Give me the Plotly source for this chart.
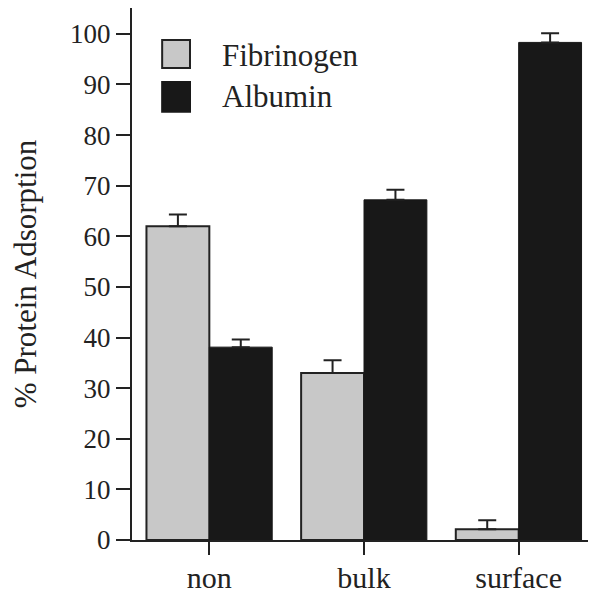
import plotly.graph_objects as go

categories = ["non", "bulk", "surface"]
fibrinogen = [62.0, 33.0, 2.1]
fibrinogen_err = [2.3, 2.5, 1.8]
albumin = [38.1, 67.2, 98.3]
albumin_err = [1.5, 2.0, 1.8]
y_ticks = [0, 10, 20, 30, 40, 50, 60, 70, 80, 90, 100]

FONT = "Liberation Serif"
INK = "#222222"
FIB_COLOR = "#c8c8c8"
ALB_COLOR = "#181818"

fig = go.Figure()
fig.add_trace(go.Bar(
    name="Fibrinogen", x=categories, y=fibrinogen,
    marker=dict(color=FIB_COLOR, line=dict(color=INK, width=2)),
    error_y=dict(type="data", array=fibrinogen_err, arrayminus=[0] * 3,
                 symmetric=False, color=INK, thickness=2, width=9),
    showlegend=False,
))
fig.add_trace(go.Bar(
    name="Albumin", x=categories, y=albumin,
    marker=dict(color=ALB_COLOR, line=dict(color=ALB_COLOR, width=1)),
    error_y=dict(type="data", array=albumin_err, arrayminus=[0] * 3,
                 symmetric=False, color=INK, thickness=2, width=9),
    showlegend=False,
))

# custom legend with large swatches
legend_items = [("Fibrinogen", FIB_COLOR, INK, 0.940, 0.887, 0.911),
                ("Albumin", ALB_COLOR, ALB_COLOR, 0.861, 0.805, 0.833)]
for label, fill, edge, y1, y0, ty in legend_items:
    fig.add_shape(type="rect", xref="paper", yref="paper",
                  x0=0.065, x1=0.125, y0=y0, y1=y1,
                  fillcolor=fill, line=dict(color=edge, width=2))
    fig.add_annotation(x=0.190, y=ty, xref="paper", yref="paper",
                       text=label, showarrow=False, xanchor="left", yanchor="middle",
                       font=dict(family=FONT, size=31, color=INK))

fig.update_layout(
    width=588, height=585,
    margin=dict(l=124, r=0, t=0, b=53),
    paper_bgcolor="white", plot_bgcolor="white",
    barmode="group", bargap=0.187, bargroupgap=0,
    font=dict(family=FONT, color=INK),
)
fig.update_xaxes(
    automargin=False,
    showline=True, linecolor=INK, linewidth=2, mirror=True,
    ticks="outside", ticklen=13, tickwidth=2, tickcolor=INK,
    tickfont=dict(family=FONT, size=30, color=INK),
    ticklabelstandoff=-3,
    range=[-0.5, 2.5], showgrid=False,
)
fig.update_yaxes(
    automargin=False,
    range=[0, 105.1], tickvals=y_ticks,
    showline=True, linecolor=INK, linewidth=2, mirror=False,
    ticks="outside", ticklen=14, tickwidth=2, tickcolor=INK,
    tickfont=dict(family=FONT, size=27, color=INK),
    showgrid=False, zeroline=False,
    title=dict(text="% Protein Adsorption", font=dict(family=FONT, size=31, color=INK), standoff=35),
)

fig.write_html("out.html")
